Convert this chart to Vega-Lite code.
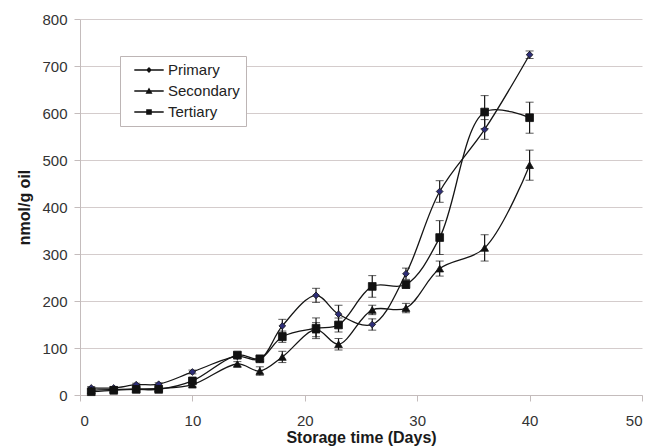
{
  "$schema": "https://vega.github.io/schema/vega-lite/v6.json",
  "width": 562,
  "height": 376,
  "autosize": {"type": "none"},
  "padding": {"left": 80, "top": 19, "right": 13, "bottom": 53},
  "background": "#ffffff",
  "config": {
    "font": "Liberation Sans",
    "view": {"stroke": null},
    "axis": {
      "labelFont": "Liberation Sans",
      "labelFontSize": 15,
      "labelColor": "#333333",
      "titleFont": "Liberation Sans",
      "titleFontSize": 16,
      "titleFontWeight": "bold",
      "titleColor": "#1a1a1a",
      "domainColor": "#c4bcbc",
      "tickColor": "#c4bcbc",
      "gridColor": "#d4cccc",
      "tickSize": 6
    }
  },
  "data": {
    "values": [
      {"series": "Primary", "day": 1, "value": 15, "err": 3},
      {"series": "Primary", "day": 3, "value": 15, "err": 3},
      {"series": "Primary", "day": 5, "value": 22, "err": 3},
      {"series": "Primary", "day": 7, "value": 23, "err": 3},
      {"series": "Primary", "day": 10, "value": 49, "err": 4},
      {"series": "Primary", "day": 14, "value": 82, "err": 5},
      {"series": "Primary", "day": 16, "value": 76, "err": 5},
      {"series": "Primary", "day": 18, "value": 147, "err": 14},
      {"series": "Primary", "day": 21, "value": 212, "err": 15},
      {"series": "Primary", "day": 23, "value": 172, "err": 19},
      {"series": "Primary", "day": 26, "value": 150, "err": 12},
      {"series": "Primary", "day": 29, "value": 258, "err": 12},
      {"series": "Primary", "day": 32, "value": 433, "err": 23},
      {"series": "Primary", "day": 36, "value": 565, "err": 21},
      {"series": "Primary", "day": 40, "value": 724, "err": 8},
      {"series": "Secondary", "day": 1, "value": 10, "err": 3},
      {"series": "Secondary", "day": 3, "value": 12, "err": 3},
      {"series": "Secondary", "day": 5, "value": 13, "err": 3},
      {"series": "Secondary", "day": 7, "value": 14, "err": 3},
      {"series": "Secondary", "day": 10, "value": 22, "err": 4},
      {"series": "Secondary", "day": 14, "value": 66, "err": 5},
      {"series": "Secondary", "day": 16, "value": 51, "err": 9},
      {"series": "Secondary", "day": 18, "value": 81, "err": 12},
      {"series": "Secondary", "day": 21, "value": 139, "err": 15},
      {"series": "Secondary", "day": 23, "value": 108, "err": 12},
      {"series": "Secondary", "day": 26, "value": 181, "err": 10},
      {"series": "Secondary", "day": 29, "value": 185, "err": 10},
      {"series": "Secondary", "day": 32, "value": 269, "err": 16},
      {"series": "Secondary", "day": 36, "value": 313, "err": 28},
      {"series": "Secondary", "day": 40, "value": 489, "err": 32},
      {"series": "Tertiary", "day": 1, "value": 7, "err": 3},
      {"series": "Tertiary", "day": 3, "value": 10, "err": 3},
      {"series": "Tertiary", "day": 5, "value": 12, "err": 3},
      {"series": "Tertiary", "day": 7, "value": 12, "err": 3},
      {"series": "Tertiary", "day": 10, "value": 30, "err": 4},
      {"series": "Tertiary", "day": 14, "value": 85, "err": 6},
      {"series": "Tertiary", "day": 16, "value": 77, "err": 6},
      {"series": "Tertiary", "day": 18, "value": 124, "err": 12},
      {"series": "Tertiary", "day": 21, "value": 142, "err": 22},
      {"series": "Tertiary", "day": 23, "value": 149, "err": 15},
      {"series": "Tertiary", "day": 26, "value": 231, "err": 23},
      {"series": "Tertiary", "day": 29, "value": 235, "err": 8},
      {"series": "Tertiary", "day": 32, "value": 335, "err": 36},
      {"series": "Tertiary", "day": 36, "value": 602, "err": 35},
      {"series": "Tertiary", "day": 40, "value": 590, "err": 33}
    ]
  },
  "encoding": {
    "x": {
      "field": "day",
      "type": "quantitative",
      "scale": {"domain": [0, 50], "nice": false},
      "axis": {"values": [0, 10, 20, 30, 40, 50], "grid": false, "title": "Storage time (Days)", "titlePadding": 1, "labelPadding": 12}
    },
    "y": {
      "field": "value",
      "type": "quantitative",
      "scale": {"domain": [0, 800], "nice": false},
      "axis": {"values": [0, 100, 200, 300, 400, 500, 600, 700, 800], "grid": true, "title": "nmol/g oil", "titlePadding": 9, "labelPadding": 7}
    }
  },
  "resolve": {"scale": {"shape": "independent"}},
  "layer": [
    {
      "mark": {"type": "line", "interpolate": "catmull-rom", "color": "#151515", "strokeWidth": 1.3},
      "encoding": {
        "detail": {"field": "series"}
      }
    },
    {
      "mark": {"type": "errorbar", "ticks": {"size": 8, "color": "#151515", "strokeWidth": 1.2}, "rule": {"color": "#151515", "strokeWidth": 1.2}},
      "encoding": {
        "yError": {"field": "err"},
        "detail": {"field": "series"}
      }
    },
    {
      "mark": {"type": "point", "filled": true, "opacity": 1, "stroke": "#111111", "strokeWidth": 0.8},
      "encoding": {
        "color": {
          "condition": {"test": "datum.series === 'Primary'", "value": "#2e2e78"},
          "value": "#111111"
        },
        "size": {
          "condition": {"test": "datum.series === 'Primary'", "value": 45},
          "value": 60
        },
        "shape": {
          "field": "series",
          "type": "nominal",
          "scale": {"domain": ["Primary", "Secondary", "Tertiary"], "range": ["diamond", "triangle-up", "square"]},
          "legend": null
        }
      }
    },
    {
      "mark": {"type": "point", "filled": true, "color": "#111111", "opacity": 0},
      "encoding": {
        "shape": {
          "field": "series",
          "type": "nominal",
          "scale": {
            "domain": ["Primary", "Secondary", "Tertiary"],
            "range": [
              "M-2.1,-0.09H2.1V0.09H-2.1ZM0,-0.42L0.42,0L0,0.42L-0.42,0Z",
              "M-2.1,-0.09H2.1V0.09H-2.1ZM0,-0.5L0.5,0.38L-0.5,0.38Z",
              "M-2.1,-0.09H2.1V0.09H-2.1ZM-0.4,-0.4H0.4V0.4H-0.4Z"
            ]
          },
          "legend": {
            "title": null,
            "orient": "none",
            "legendX": 40,
            "legendY": 37,
            "padding": 6,
            "fillColor": "#ffffff",
            "strokeColor": "#bdb5b5",
            "labelFont": "Liberation Sans",
            "labelFontSize": 15,
            "labelColor": "#222222",
            "symbolSize": 196,
            "symbolOpacity": 1,
            "symbolFillColor": "#111111",
            "labelOffset": 11,
            "rowPadding": 5,
            "symbolOffset": 15
          }
        }
      }
    }
  ]
}
